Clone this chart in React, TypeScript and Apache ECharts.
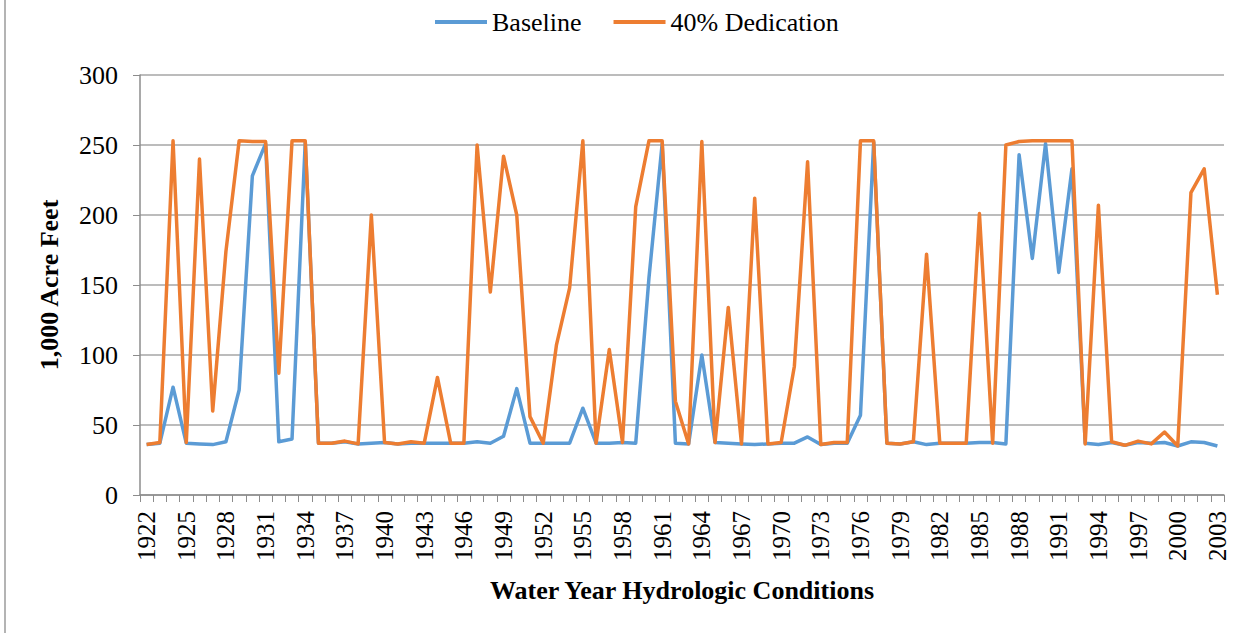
import React, { useEffect, useRef } from "react";
import * as echarts from "echarts";

const years: string[] = [
  "1922", "1923", "1924", "1925", "1926", "1927", "1928", "1929", "1930", "1931",
  "1932", "1933", "1934", "1935", "1936", "1937", "1938", "1939", "1940", "1941",
  "1942", "1943", "1944", "1945", "1946", "1947", "1948", "1949", "1950", "1951",
  "1952", "1953", "1954", "1955", "1956", "1957", "1958", "1959", "1960", "1961",
  "1962", "1963", "1964", "1965", "1966", "1967", "1968", "1969", "1970", "1971",
  "1972", "1973", "1974", "1975", "1976", "1977", "1978", "1979", "1980", "1981",
  "1982", "1983", "1984", "1985", "1986", "1987", "1988", "1989", "1990", "1991",
  "1992", "1993", "1994", "1995", "1996", "1997", "1998", "1999", "2000", "2001",
  "2002", "2003",
];

const baseline: number[] = [
  36, 37, 77, 37, 36.5, 36, 38, 75, 228, 251,
  38, 40, 252, 37, 37, 38, 36.5, 37, 37.5, 36.5,
  37, 37, 37, 37, 37, 38, 37, 42, 76, 37,
  37, 37, 37, 62, 37, 37, 37.5, 37, 155, 251,
  37, 36.5, 100, 37.5, 37, 36.5, 36, 36.5, 37, 37,
  41.5, 36, 37, 37, 57, 252, 37, 36.5, 38, 36,
  37, 37, 37, 37.5, 37.5, 36.5, 243, 169, 251, 159,
  233, 37, 36, 37.5, 35.5, 37.5, 37, 37.5, 35, 38,
  37.5, 35,
];

const dedication40: number[] = [
  36, 37.5, 253, 37.5, 240, 60, 174, 253, 252.5, 252.5,
  87, 253, 253, 37, 37, 38.5, 36.5, 200, 37.5, 36.5,
  38, 37, 84, 37, 37, 250, 145, 242, 200, 56,
  37, 107, 148, 253, 37, 104, 37.5, 206, 253, 253,
  67, 36.5, 252.5, 37.5, 134, 36.5, 212, 36.5, 37.5, 92,
  238, 36, 37.5, 37.5, 253, 253, 37, 36.5, 38, 172,
  37, 37, 37, 201, 37, 250, 252.5, 253, 253, 253,
  253, 36.5, 207, 38, 35.5, 38.5, 36.5, 45, 35, 216,
  233, 143,
];

const seriesNames = ["Baseline", "40% Dedication"];
const yTicks = { min: 0, max: 300, interval: 50 };

const FONT = "Liberation Serif";

export default function App() {
  const ref = useRef<HTMLDivElement>(null);

  useEffect(() => {
    if (!ref.current) return;
    const chart = echarts.init(ref.current, undefined, { renderer: "svg" });
    chart.setOption({
      animation: false,
      backgroundColor: "#ffffff",
      textStyle: { fontFamily: FONT, color: "#000" },
      color: ["#5B9BD5", "#ED7D31"],
      legend: {
        left: 430,
        top: 4,
        itemWidth: 52,
        itemHeight: 4,
        itemGap: 32,
        icon: "rect",
        textStyle: { fontFamily: FONT, fontSize: 26, color: "#000" },
        data: seriesNames,
      },
      graphic: [
        {
          type: "line",
          shape: { x1: 5, y1: 0, x2: 5, y2: 633 },
          style: { stroke: "#b4b4b4", lineWidth: 2 },
        },
      ],
      grid: { left: 140, right: 27, top: 75, bottom: 138, containLabel: false },
      xAxis: {
        type: "category",
        data: years,
        boundaryGap: true,
        name: "Water Year Hydrologic Conditions",
        nameLocation: "middle",
        nameGap: 82,
        nameTextStyle: { fontFamily: FONT, fontSize: 26, fontWeight: "bold", color: "#000" },
        axisLine: { lineStyle: { color: "#8c8c8c", width: 1.5 } },
        axisTick: { show: true, interval: 0, length: 7, lineStyle: { color: "#8c8c8c" } },
        axisLabel: {
          interval: 2,
          rotate: 90,
          margin: 16,
          fontFamily: FONT,
          fontSize: 25,
          color: "#000",
        },
        splitLine: { show: false },
      },
      yAxis: {
        type: "value",
        min: yTicks.min,
        max: yTicks.max,
        interval: yTicks.interval,
        name: "1,000 Acre Feet",
        nameLocation: "middle",
        nameGap: 78,
        nameTextStyle: { fontFamily: FONT, fontSize: 26, fontWeight: "bold", color: "#000" },
        axisLine: { show: true, lineStyle: { color: "#8c8c8c", width: 1.5 } },
        axisTick: { show: true, length: 7, lineStyle: { color: "#8c8c8c" } },
        axisLabel: { margin: 22, fontFamily: FONT, fontSize: 26, color: "#000" },
        splitLine: { show: true, lineStyle: { color: "#a6a6a6", width: 1.5 } },
      },
      series: [
        {
          name: seriesNames[0],
          type: "line",
          data: baseline,
          showSymbol: false,
          symbol: "none",
          lineStyle: { width: 3.5, color: "#5B9BD5", join: "round" },
          itemStyle: { color: "#5B9BD5" },
        },
        {
          name: seriesNames[1],
          type: "line",
          data: dedication40,
          showSymbol: false,
          symbol: "none",
          lineStyle: { width: 3.5, color: "#ED7D31", join: "round" },
          itemStyle: { color: "#ED7D31" },
        },
      ],
    });
    return () => chart.dispose();
  }, []);

  return (
    <div
      ref={ref}
      style={{ position: "absolute", left: 0, top: 0, width: 1251, height: 633 }}
    />
  );
}
